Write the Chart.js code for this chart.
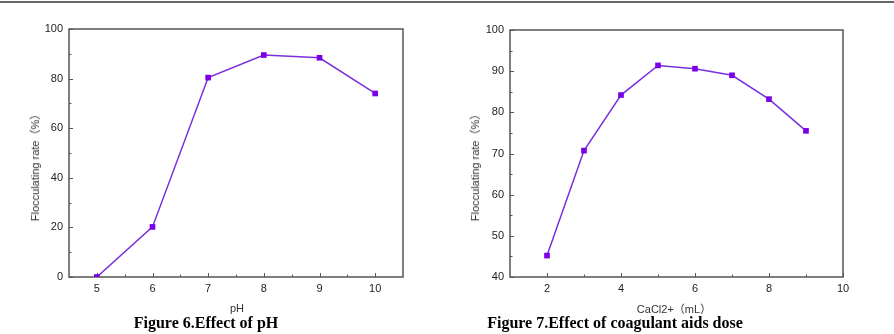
<!DOCTYPE html>
<html>
<head>
<meta charset="utf-8">
<script src="https://cdn.jsdelivr.net/npm/chart.js@4/dist/chart.umd.min.js"></script>
<style>
  body { margin: 0; background: #fff; }
  #page { position: relative; width: 894px; height: 334px; overflow: hidden; background: #fff; }
  .topline { position: absolute; left: 0; top: 1px; width: 894px; height: 2px; background: #666; }
  .panel { position: absolute; top: 0; height: 334px; }
  .lbl { position: absolute; font-family: "Liberation Sans", Arial, "Noto Sans CJK SC", sans-serif; font-size: 11px; color: #333; white-space: nowrap; }
  .ytitle { transform: translate(-50%, -50%) rotate(-90deg); }
  .xtitle { transform: translate(-50%, -50%); }
  .cap { position: absolute; font-family: "Liberation Serif", "Times New Roman", serif; font-weight: bold; font-size: 16px; color: #000; white-space: nowrap; transform: translate(-50%, -50%); }
</style>
</head>
<body>
<div id="page">
  <div class="topline"></div>
  <div class="panel" style="left:0;width:447px"><canvas id="c1" width="447" height="334"></canvas></div>
  <div class="panel" style="left:440px;width:454px"><canvas id="c2" width="454" height="334"></canvas></div>
  <div class="lbl ytitle" style="left:34px;top:165px">Flocculating rate（%）</div>
  <div class="lbl xtitle" style="left:237px;top:308px">pH</div>
  <div class="cap" style="left:206px;top:323px">Figure 6.Effect of pH</div>
  <div class="lbl ytitle" style="left:474px;top:165px">Flocculating rate（%）</div>
  <div class="lbl xtitle" style="left:674px;top:308px">CaCl2+（mL）</div>
  <div class="cap" style="left:615px;top:323px">Figure 7.Effect of coagulant aids dose</div>
</div>
<script>
// Figure 6 - pH
const phValues = [5, 6, 7, 8, 9, 10];
const phRates = [0, 20.2, 80.4, 89.5, 88.4, 74.0];
const phXTicks = [5, 6, 7, 8, 9, 10];
const phXMinor = [5.5, 6.5, 7.5, 8.5, 9.5];
const phYTicks = [0, 20, 40, 60, 80, 100];
const phYMinor = [10, 30, 50, 70, 90];

// Figure 7 - CaCl2 dose
const doseValues = [2, 3, 4, 5, 6, 7, 8, 9];
const doseRates = [45.2, 70.7, 84.2, 91.4, 90.6, 89.0, 83.2, 75.5];
const doseXTicks = [2, 4, 6, 8, 10];
const doseXMinor = [3, 5, 7, 9];
const doseYTicks = [40, 50, 60, 70, 80, 90, 100];
const doseYMinor = [45, 55, 65, 75, 85, 95];

const LINE = '#7a2fdc';
const MARK = '#7b00e6';
const AXIS = '#555';
const TXT = '#222';

// frame box + inward ticks (Origin style)
const framePlugin = {
    id: 'frame',
    beforeDatasetsDraw(chart, args, opts) {
        const { ctx, chartArea: a, scales } = chart;
        ctx.save();
        ctx.strokeStyle = AXIS;
        ctx.lineWidth = 1.5;
        ctx.strokeRect(a.left, a.top, a.right - a.left, a.bottom - a.top);
        ctx.lineWidth = 1;
        const tick = (vals, len, axis) => {
            vals.forEach(v => {
                ctx.beginPath();
                if (axis === 'x') {
                    const px = Math.round(scales.x.getPixelForValue(v)) + 0.5;
                    ctx.moveTo(px, a.bottom);
                    ctx.lineTo(px, a.bottom - len);
                } else {
                    const py = Math.round(scales.y.getPixelForValue(v)) + 0.5;
                    ctx.moveTo(a.left, py);
                    ctx.lineTo(a.left + len, py);
                }
                ctx.stroke();
            });
        };
        tick(opts.xMajor, 4, 'x');
        tick(opts.xMinor, 2.5, 'x');
        tick(opts.yMajor, 4, 'y');
        tick(opts.yMinor, 2.5, 'y');
        ctx.restore();
    }
};

function makeChart(id, xs, ys, cfg) {
    const ctx = document.getElementById(id).getContext('2d');
    return new Chart(ctx, {
        type: 'line',
        data: {
            datasets: [{
                data: xs.map((x, i) => ({ x: x, y: ys[i] })),
                borderColor: LINE,
                borderWidth: 1.5,
                backgroundColor: MARK,
                pointStyle: 'rect',
                pointRadius: 4,
                pointBorderWidth: 0,
                pointBackgroundColor: MARK,
                tension: 0,
                fill: false
            }]
        },
        options: {
            responsive: false,
            animation: false,
            events: [],
            layout: { padding: { top: cfg.top, right: cfg.right, left: 0, bottom: 0 } },
            plugins: {
                legend: { display: false },
                tooltip: { enabled: false },
                frame: { xMajor: cfg.xTicks, xMinor: cfg.xMinor, yMajor: cfg.yTicks, yMinor: cfg.yMinor }
            },
            scales: {
                x: {
                    type: 'linear',
                    min: cfg.xMin, max: cfg.xMax,
                    grid: { display: false, drawTicks: false },
                    border: { display: false },
                    afterBuildTicks: s => { s.ticks = cfg.xTicks.map(v => ({ value: v })); },
                    afterFit: s => { s.height = cfg.xHeight; },
                    ticks: { padding: 5, color: TXT, font: { family: 'Liberation Sans', size: 11 }, maxRotation: 0 }
                },
                y: {
                    type: 'linear',
                    min: cfg.yMin, max: cfg.yMax,
                    grid: { display: false, drawTicks: false },
                    border: { display: false },
                    afterBuildTicks: s => { s.ticks = cfg.yTicks.map(v => ({ value: v })); },
                    afterFit: s => { s.width = cfg.yWidth; },
                    ticks: { padding: 6, color: TXT, font: { family: 'Liberation Sans', size: 11 } }
                }
            }
        },
        plugins: [framePlugin]
    });
}

makeChart('c1', phValues, phRates, {
    xMin: 4.5, xMax: 10.5, yMin: 0, yMax: 100,
    xTicks: phXTicks, xMinor: phXMinor, yTicks: phYTicks, yMinor: phYMinor,
    top: 29, right: 44, yWidth: 69, xHeight: 57
});

makeChart('c2', doseValues, doseRates, {
    xMin: 1, xMax: 10, yMin: 40, yMax: 100,
    xTicks: doseXTicks, xMinor: doseXMinor, yTicks: doseYTicks, yMinor: doseYMinor,
    top: 30, right: 51, yWidth: 70, xHeight: 57
});
</script>
</body>
</html>
